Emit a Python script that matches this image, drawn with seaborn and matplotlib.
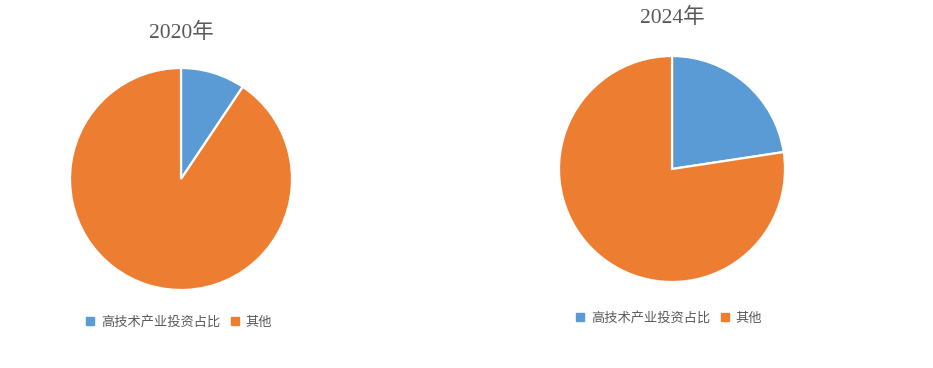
import matplotlib
matplotlib.use("Agg")
import matplotlib.pyplot as plt
import seaborn as sns
from matplotlib.lines import Line2D

sns.set_theme(style="white")
plt.rcParams['font.family'] = ['Noto Sans CJK SC', 'DejaVu Sans']

categories = ["高技术产业投资占比", "其他"]
years = ["2020年", "2024年"]
values_2020 = [9.4, 90.6]
values_2024 = [22.6, 77.4]
colors = sns.color_palette(["#5B9BD5", "#ED7D31"])

W, H = 933, 368
fig = plt.figure(figsize=(W / 100, H / 100), dpi=100)
fig.patch.set_facecolor("white")

# (center x, center y, radius, title y, legend y, legend x) in pixels
specs = [
    (181, 179, 111, 33, 322, 85),
    (672, 169, 113, 18, 318, 575),
]

for (cx, cy, r, ty, ly, lx), year, vals in zip(specs, years, [values_2020, values_2024]):
    ax = fig.add_axes([(cx - r) / W, (H - cy - r) / H, 2 * r / W, 2 * r / H])
    ax.pie(vals, colors=colors, startangle=90, counterclock=False,
           wedgeprops=dict(edgecolor="white", linewidth=1.6), radius=1)
    ax.set_xlim(-1, 1)
    ax.set_ylim(-1, 1)
    ax.set_aspect("auto")
    ax.axis("off")
    fig.text(cx / W, 1 - ty / H, year, ha="center", va="center", fontsize=15.5,
             color="#595959", family=["Liberation Serif", "Noto Sans CJK SC"])
    handles = [Line2D([0], [0], marker="s", linestyle="none", markersize=5.5,
                      markerfacecolor=c, markeredgecolor=c) for c in colors]
    fig.legend(handles, categories, loc="center left",
               bbox_to_anchor=(lx / W, 1 - ly / H), ncol=2, frameon=False,
               fontsize=9.5, labelcolor="#595959", handlelength=0.8,
               handletextpad=0.4, columnspacing=0.75, borderpad=0, borderaxespad=0)

fig.savefig("out.png", dpi=100, facecolor="white")
